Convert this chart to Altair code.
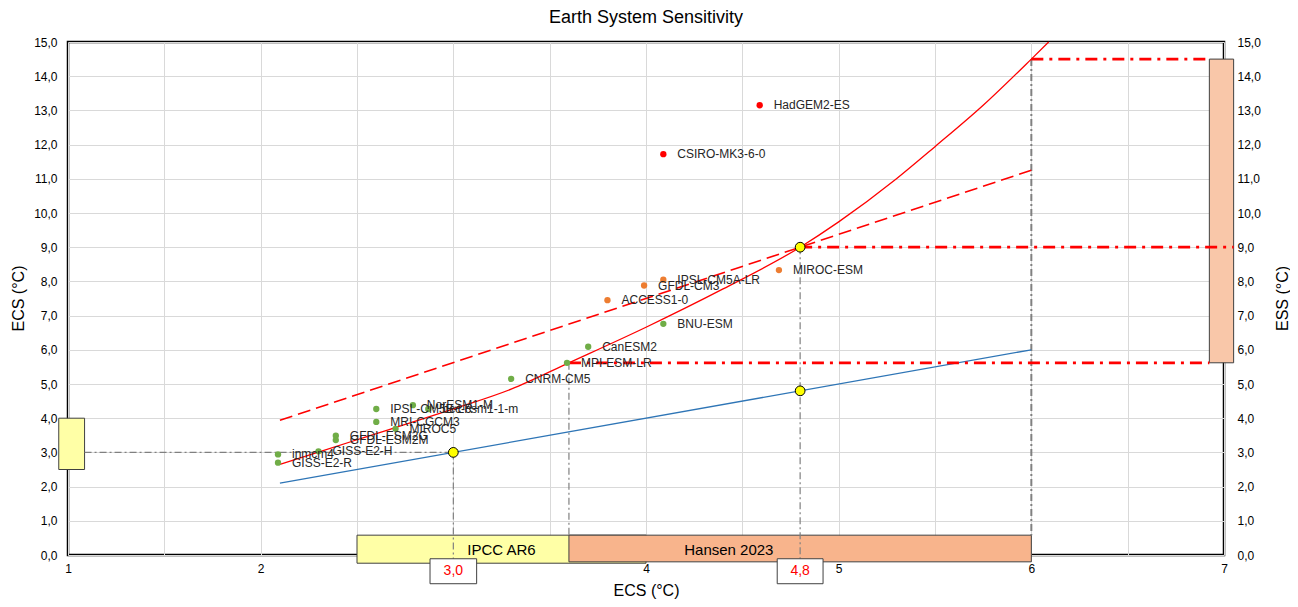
import altair as alt
import pandas as pd

FONT = "Liberation Sans"

# ---------------- data ----------------
models = ["HadGEM2-ES", "CSIRO-MK3-6-0", "MIROC-ESM", "IPSL-CM5A-LR", "GFDL-CM3",
          "ACCESS1-0", "BNU-ESM", "CanESM2", "MPI-ESM-LR", "CNRM-CM5",
          "IPSL-CM5B-LR", "NorESM1-M", "bcc-csm1-1-m", "MRI-CGCM3", "MIROC5",
          "GFDL-ESM2G", "GFDL-ESM2M", "GISS-E2-H", "inmcm4", "GISS-E2-R"]
model_ecs = [4.59, 4.09, 4.69, 4.09, 3.99,
             3.80, 4.09, 3.70, 3.59, 3.30,
             2.60, 2.79, 2.87, 2.60, 2.70,
             2.39, 2.39, 2.30, 2.09, 2.09]
model_ess = [13.15, 11.72, 8.33, 8.05, 7.88,
             7.45, 6.76, 6.09, 5.62, 5.15,
             4.27, 4.38, 4.27, 3.89, 3.69,
             3.49, 3.36, 3.03, 2.94, 2.70]
model_group = ["high", "high", "mid", "mid", "mid",
               "mid", "low", "low", "low", "low",
               "low", "low", "low", "low", "low",
               "low", "low", "low", "low", "low"]

curve_ecs = [2.1, 2.5, 3.0, 3.3, 3.6, 4.0, 4.4, 4.8, 5.0, 5.3, 5.5, 5.75, 6.0, 6.09]
curve_ess = [2.65, 3.37, 4.27, 4.85, 5.62, 6.66, 7.78, 9.0, 9.74, 11.0, 11.94, 13.15, 14.5, 15.0]

linear_ecs = [2.1, 6.0]
linear_ess = [3.94, 11.25]

one_to_one_ecs = [2.1, 6.0]
one_to_one_ess = [2.1, 6.0]

key_ecs = [3.0, 4.8, 4.8]
key_ess = [3.0, 4.8, 9.0]

ipcc_range = [2.5, 4.0]
ipcc_best = 3.0
hansen_range = [3.6, 6.0]
hansen_best = 4.8
ess_low, ess_best, ess_high = 5.62, 9.0, 14.5

x_ticks = [1, 1.5, 2, 2.5, 3, 3.5, 4, 4.5, 5, 5.5, 6, 6.5, 7]
y_ticks = [0, 1, 2, 3, 4, 5, 6, 7, 8, 9, 10, 11, 12, 13, 14, 15]

# ---------------- encodings ----------------
xscale = alt.Scale(domain=[1, 7], nice=False, zero=False)
yscale = alt.Scale(domain=[0, 15], nice=False, zero=False)
ylabel = "replace(format(datum.value, '.1f'), '.', ',')"

xaxis = alt.Axis(values=x_ticks, ticks=False, domain=False, gridColor="#D9D9D9",
                 labelExpr="datum.value % 1 === 0 ? format(datum.value, 'd') : ''",
                 labelFlush=False, labelOverlap=False, labelPadding=8,
                 title="ECS (°C)", titleX=578, titleY=35, titleAngle=0,
                 titleAlign="center", titleBaseline="middle",
                 titleFontSize=16, titleFontWeight="normal")
yaxis = alt.Axis(values=y_ticks, ticks=False, domain=False, gridColor="#D9D9D9",
                 labelExpr=ylabel, labelPadding=11, labelOverlap=False,
                 title="ECS (°C)", titleX=-50, titleY=256, titleAngle=270,
                 titleAlign="center", titleBaseline="middle",
                 titleFontSize=16, titleFontWeight="normal")


def X(f="x"):
    return alt.X(f, type="quantitative", scale=xscale, axis=xaxis)


def Y(f="y"):
    return alt.Y(f, type="quantitative", scale=yscale, axis=yaxis)


# ---------------- frames ----------------
pts = pd.DataFrame({"model": models, "x": model_ecs, "y": model_ess, "group": model_group})
curve = pd.DataFrame({"x": curve_ecs, "y": curve_ess})
lin = pd.DataFrame({"x": linear_ecs, "y": linear_ess})
one = pd.DataFrame({"x": one_to_one_ecs, "y": one_to_one_ess})
keys = pd.DataFrame({"x": key_ecs, "y": key_ess})

bottom_boxes = pd.DataFrame({
    "x": [ipcc_range[0], hansen_range[0]], "x2": [ipcc_range[1], hansen_range[1]],
    "y": [-0.24, -0.20], "y2": [0.58, 0.58], "name": ["IPCC AR6", "Hansen 2023"]})
ipcc_box = bottom_boxes.iloc[[0]]
hansen_box = bottom_boxes.iloc[[1]]
box_text = pd.DataFrame({"x": [(ipcc_range[0] + ipcc_range[1]) / 2, 4.43],
                         "y": [0.15, 0.15], "name": ["IPCC AR6", "Hansen 2023"]})

left_box = pd.DataFrame({"x": [0.952], "x2": [1.086], "y": [ipcc_range[0]], "y2": [ipcc_range[1]]})
right_box = pd.DataFrame({"x": [6.924], "x2": [7.05], "y": [ess_low], "y2": [ess_high]})

vlines = pd.DataFrame({"x": [ipcc_best, hansen_best, hansen_range[0]],
                       "y": [ipcc_best, ess_best, ess_low],
                       "y2": [-0.11, -0.11, 0.58]})
vline6 = pd.DataFrame({"x": [hansen_range[1]], "y": [ess_high], "y2": [0.58]})
hline_gray = pd.DataFrame({"x": [1.086], "x2": [ipcc_best], "y": [ipcc_best]})
hlines_red = pd.DataFrame({"x": [hansen_range[1], hansen_best, hansen_range[0]],
                           "x2": [6.924, 7.05, 6.924],
                           "y": [ess_high, ess_best, ess_low]})

tags = pd.DataFrame({"x": [ipcc_best - 0.121, hansen_best - 0.119],
                     "x2": [ipcc_best + 0.121, hansen_best + 0.119],
                     "y": [-0.84, -0.84], "y2": [-0.11, -0.11],
                     "xc": [ipcc_best, hansen_best], "yc": [-0.47, -0.47],
                     "label": ["3,0", "4,8"]})

# ---------------- layers ----------------
L = []
L.append(alt.Chart(ipcc_box).mark_rect(fill="#FFFFA6", stroke="#404040", strokeWidth=1)
         .encode(x=X(), x2="x2", y=Y(), y2="y2"))
L.append(alt.Chart(hansen_box).mark_rect(fill="#F8B48C", stroke="#404040", strokeWidth=1)
         .encode(x=X(), x2="x2", y=Y(), y2="y2"))
L.append(alt.Chart(box_text).mark_text(font=FONT, fontSize=15, color="#000000", baseline="middle")
         .encode(x=X(), y=Y(), text="name"))
L.append(alt.Chart(left_box).mark_rect(fill="#FFFFA6", stroke="#404040", strokeWidth=1)
         .encode(x=X(), x2="x2", y=Y(), y2="y2"))
L.append(alt.Chart(right_box).mark_rect(fill="#F9C7A9", stroke="#404040", strokeWidth=1)
         .encode(x=X(), x2="x2", y=Y(), y2="y2"))
L.append(alt.Chart(hline_gray).mark_rule(color="#808080", strokeWidth=1.2, strokeDash=[7, 3, 2, 3])
         .encode(x=X(), x2="x2", y=Y()))
L.append(alt.Chart(vlines).mark_rule(color="#808080", strokeWidth=1.2, strokeDash=[7, 3, 2, 3])
         .encode(x=X(), y=Y(), y2="y2"))
L.append(alt.Chart(vline6).mark_rule(color="#808080", strokeWidth=2, strokeDash=[7, 3, 2, 3])
         .encode(x=X(), y=Y(), y2="y2"))
L.append(alt.Chart(one).mark_line(color="#2E75B6", strokeWidth=1.3)
         .encode(x=X(), y=Y()))
L.append(alt.Chart(lin).mark_line(color="#FF0000", strokeWidth=1.6, strokeDash=[13, 6])
         .encode(x=X(), y=Y()))
L.append(alt.Chart(curve).mark_line(color="#FF0000", strokeWidth=1.3, interpolate="monotone")
         .encode(x=X(), y=Y()))
L.append(alt.Chart(hlines_red).mark_rule(color="#FF0000", strokeWidth=2.8, strokeDash=[12, 6, 3, 6])
         .encode(x=X(), x2="x2", y=Y()))
L.append(alt.Chart(pts).mark_circle(size=40, opacity=1)
         .encode(x=X(), y=Y(),
                 color=alt.Color("group:N", legend=None,
                                 scale=alt.Scale(domain=["low", "mid", "high"],
                                                 range=["#70AD47", "#ED7D31", "#FF0000"]))))
L.append(alt.Chart(pts).mark_text(font=FONT, fontSize=12, color="#262626", align="left",
                                  baseline="middle", dx=14)
         .encode(x=X(), y=Y(), text="model"))
L.append(alt.Chart(keys).mark_point(filled=True, size=95, fill="#FFFF00", stroke="#000000",
                                    strokeWidth=1, opacity=1)
         .encode(x=X(), y=Y()))
L.append(alt.Chart(tags).mark_rect(fill="white", stroke="#404040", strokeWidth=1)
         .encode(x=X(), x2="x2", y=Y(), y2="y2"))
L.append(alt.Chart(tags).mark_text(font=FONT, fontSize=14, color="#FF0000", baseline="middle")
         .encode(x=X("xc"), y=Y("yc"), text="label"))

main = alt.layer(*L)

right_axis = alt.Chart(pd.DataFrame({"y": y_ticks})).mark_point(opacity=0).encode(
    y=alt.Y("y:Q", scale=alt.Scale(domain=[0, 15], nice=False, zero=False),
            axis=alt.Axis(orient="right", values=y_ticks, ticks=False, domain=False, grid=False,
                          labelExpr=ylabel, labelPadding=13, labelOverlap=False,
                          title="ESS (°C)", titleX=58, titleY=256, titleAngle=270,
                          titleAlign="center", titleBaseline="middle",
                          titleFontSize=16, titleFontWeight="normal")))

chart = alt.layer(main, right_axis).resolve_scale(y="independent").properties(
    width=1156, height=513,
    autosize=alt.AutoSizeParams(type="none"),
    padding={"left": 60, "top": 34, "right": 66, "bottom": 44},
    title=alt.TitleParams("Earth System Sensitivity", font=FONT, fontSize=18,
                          fontWeight="normal", color="#000000", anchor="middle", offset=9),
).configure_view(stroke="#000000", strokeWidth=2.5).configure_axis(
    labelFont=FONT, titleFont=FONT, labelFontSize=12, labelColor="#000000", titleColor="#000000"
)

chart.save("out.html", embed_options={"renderer": "svg", "actions": False})
